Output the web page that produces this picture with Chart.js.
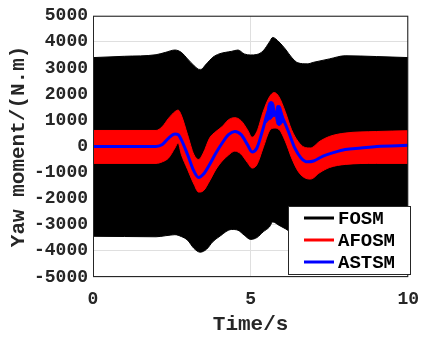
<!DOCTYPE html>
<html>
<head>
<meta charset="utf-8">
<script src="https://cdn.jsdelivr.net/npm/chart.js@4"></script>
<style>
  html, body { margin: 0; padding: 0; background: #fff; }
  #wrap { width: 431px; height: 337px; position: relative; }
</style>
</head>
<body>
<div id="wrap"><canvas id="yawChart" width="431" height="337"></canvas></div>
<script>
// FOSM: dense chattering band, kept as upper/lower envelope
const fosmT = [0, 1, 2, 2.3, 2.6, 2.8, 3, 3.2, 3.4, 3.6, 3.8, 4, 4.4, 4.6, 4.8, 5, 5.2, 5.4, 5.6, 5.7, 5.9, 6.1, 6.3, 6.5, 6.8, 7, 7.5, 8, 9, 10];
const fosmUpper = [3400, 3450, 3510, 3600, 3690, 3600, 3350, 3100, 2930, 3160, 3410, 3540, 3640, 3690, 3540, 3500, 3520, 3660, 4000, 4170, 4000, 3730, 3410, 3200, 3160, 3220, 3350, 3470, 3440, 3400];
const fosmLower = [-3440, -3450, -3460, -3420, -3380, -3450, -3590, -3900, -4050, -3940, -3650, -3460, -3180, -3210, -3400, -3560, -3490, -3270, -3080, -2890, -3020, -3150, -3300, -3400, -3450, -3450, -3430, -3420, -3400, -3380];

// AFOSM: narrower band
const afosmT = [0, 2, 2.2, 2.4, 2.6, 2.7, 2.8, 3.0, 3.2, 3.35, 3.5, 3.7, 3.9, 4.1, 4.3, 4.5, 4.7, 4.9, 5.05, 5.2, 5.4, 5.6, 5.75, 5.9, 6.1, 6.3, 6.5, 6.7, 6.9, 7.2, 7.5, 8, 9, 10];
const afosmUpper = [610, 610, 760, 1080, 1330, 1390, 1200, 450, -310, -500, -250, 320, 570, 760, 1020, 1100, 980, 640, 350, 570, 1330, 1900, 2060, 1900, 1330, 640, 200, -30, -60, 200, 380, 510, 570, 600];
const afosmLower = [-650, -650, -590, -440, -60, 130, -300, -880, -1440, -1750, -1700, -1320, -880, -560, -330, -180, -300, -620, -830, -700, -50, 600, 700, 650, 200, -440, -940, -1190, -1250, -1000, -810, -690, -650, -650];

// ASTSM: smooth line
const astsmT = [0, 2, 2.2, 2.4, 2.6, 2.7, 2.8, 3.0, 3.2, 3.35, 3.5, 3.7, 3.9, 4.1, 4.3, 4.5, 4.7, 4.9, 5.05, 5.2, 5.4, 5.55, 5.65, 5.8, 5.9, 6.0, 6.2, 6.4, 6.6, 6.8, 7.0, 7.3, 7.6, 8, 8.5, 9, 10];
const astsm = [0, 0, 70, 320, 470, 450, 260, -310, -940, -1190, -1070, -690, -250, 130, 450, 570, 450, 70, -210, -60, 700, 1330, 1450, 1270, 1400, 1140, 570, -60, -440, -590, -560, -370, -250, -120, -60, 0, 40];
// ASTSM chattering blobs near the peak
const blobT = [5.5, 5.56, 5.65, 5.74, 5.78, 5.84, 5.92, 6.0, 6.06];
const blobUpper = [1000, 1600, 1720, 1600, 1300, 1560, 1560, 1300, 1000];
const blobLower = [900, 1000, 1050, 1150, 1150, 850, 800, 900, 950];

const seriesNames = ['FOSM', 'AFOSM', 'ASTSM'];
const seriesColors = ['#000000', '#ff0000', '#0000ff'];
const yTicks = [-5000, -4000, -3000, -2000, -1000, 0, 1000, 2000, 3000, 4000, 5000];
const xTicks = [0, 5, 10];

const pts = (t, v) => t.map((x, i) => ({ x: x, y: v[i] }));
const FONT = '"Liberation Mono", "Courier New", monospace';

function band(t, v, color, order, fill, w) {
  return {
    data: pts(t, v),
    borderColor: color,
    backgroundColor: color,
    borderWidth: w,
    pointRadius: 0,
    fill: fill,
    order: order,
    cubicInterpolationMode: 'monotone'
  };
}

const boxPlugin = {
  id: 'boxAndLegend',
  afterDraw(chart) {
    const { ctx, chartArea: a } = chart;
    ctx.save();
    ctx.strokeStyle = '#262626';
    ctx.lineWidth = 1;
    ctx.strokeRect(a.left + 0.5, a.top + 0.5, a.right - a.left - 1, a.bottom - a.top - 1);

    // legend box
    const lx = 288, ly = 206, lw = 122, lh = 68;
    ctx.fillStyle = '#fff';
    ctx.fillRect(lx, ly, lw, lh);
    ctx.strokeStyle = '#262626';
    ctx.strokeRect(lx + 0.5, ly + 0.5, lw, lh);
    ctx.font = 'bold 19px ' + FONT;
    ctx.textBaseline = 'middle';
    const rows = [218, 240, 262];
    seriesNames.forEach((n, i) => {
      ctx.strokeStyle = seriesColors[i];
      ctx.lineWidth = 3;
      ctx.beginPath();
      ctx.moveTo(304, rows[i]);
      ctx.lineTo(334, rows[i]);
      ctx.stroke();
      ctx.fillStyle = '#000';
      ctx.fillText(n, 338, rows[i] + 1);
    });
    ctx.restore();
  }
};

new Chart(document.getElementById('yawChart').getContext('2d'), {
  type: 'line',
  data: {
    datasets: [
      band(fosmT, fosmUpper, '#000', 3, '+1', 1),
      band(fosmT, fosmLower, '#000', 3, false, 1),
      band(afosmT, afosmUpper, '#ff0000', 2, '+1', 1),
      band(afosmT, afosmLower, '#ff0000', 2, false, 1),
      band(blobT, blobUpper, '#0000ff', 1, '+1', 1),
      band(blobT, blobLower, '#0000ff', 1, false, 1),
      band(astsmT, astsm, '#0000ff', 0, false, 3)
    ]
  },
  options: {
    responsive: false,
    animation: false,
    layout: { padding: { top: 13, right: 19, left: 0, bottom: 0 } },
    plugins: { legend: { display: false }, tooltip: { enabled: false } },
    scales: {
      x: {
        type: 'linear',
        min: 0, max: 10,
        afterBuildTicks: s => { s.ticks = xTicks.map(v => ({ value: v })); },
        afterFit: s => { s.height = 60; },
        ticks: { color: '#262626', font: { family: FONT, size: 18, weight: 'bold' }, padding: 12, maxRotation: 0, callback: v => String(v) },
        grid: { color: '#dfdfdf', drawTicks: false },
        border: { display: false },
        title: { display: true, text: 'Time/s', color: '#262626', font: { family: FONT, size: 21, weight: 'bold' }, padding: { top: 2, bottom: 0 } }
      },
      y: {
        min: -5000, max: 5000,
        afterBuildTicks: s => { s.ticks = yTicks.map(v => ({ value: v })); },
        afterFit: s => { s.width = 93; },
        ticks: { color: '#262626', font: { family: FONT, size: 18, weight: 'bold' }, padding: 5, callback: v => String(v) },
        grid: { color: '#dfdfdf', drawTicks: false },
        border: { display: false },
        title: { display: true, text: 'Yaw moment/(N.m)', color: '#262626', font: { family: FONT, size: 21, weight: 'bold' }, padding: { top: 6, bottom: 0 } }
      }
    }
  },
  plugins: [boxPlugin]
});
</script>
</body>
</html>
